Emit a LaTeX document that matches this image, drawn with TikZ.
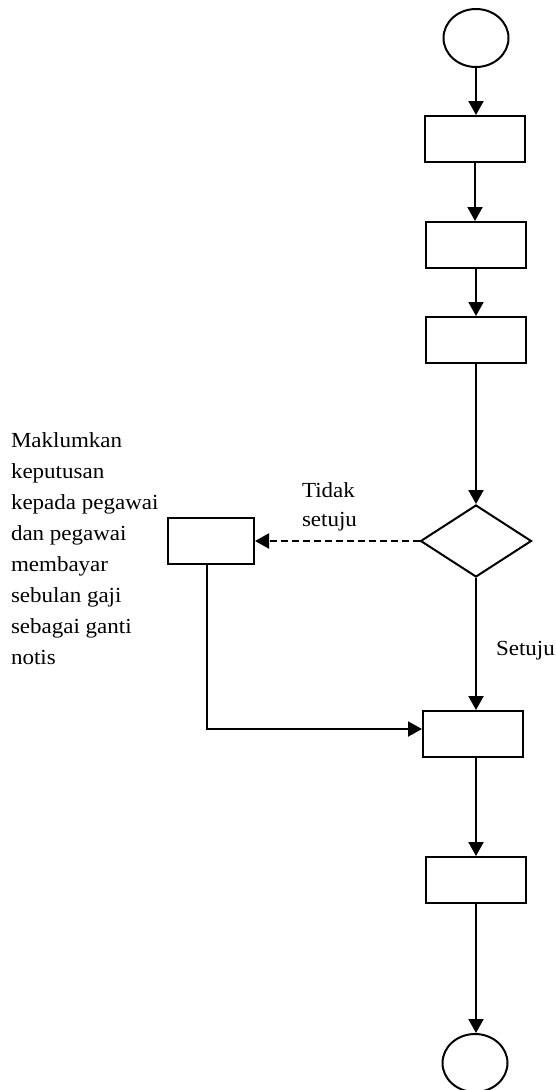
\documentclass[tikz,border=0pt]{standalone}
\usepackage{fontspec}
\setmainfont[FakeStretch=1.07]{Liberation Serif}
\usetikzlibrary{arrows.meta,shapes.geometric}
\begin{document}
\begin{tikzpicture}[x=1pt,y=-1pt,
  line width=2pt,
  term/.style={draw,ellipse,minimum width=65pt,minimum height=58pt,inner sep=0},
  procbox/.style={draw,rectangle,minimum width=100pt,minimum height=46pt,inner sep=0},
  decide/.style={draw,diamond,aspect=1.53,minimum width=111pt,minimum height=72pt,inner sep=0},
  flow/.style={-{Triangle[length=14pt,width=15pt]}},
  dashflow/.style={flow,dash pattern=on 7pt off 4pt},
  lbl/.style={font=\fontsize{21.5}{31}\selectfont,inner sep=0,align=left}]
\useasboundingbox (0,0) rectangle (555,1090);
\node[term] (start) at (476,38) {};
\node[procbox] (b1) at (475,139) {};
\node[procbox] (b2) at (476,245) {};
\node[procbox] (b3) at (476,340) {};
\node[decide] (d) at (476,541) {};
\node[procbox,minimum width=86pt] (bl) at (211,541) {};
\node[procbox] (b4) at (473,734) {};
\node[procbox] (b5) at (476,880) {};
\node[term] (end) at (475,1063) {};
\coordinate (corner) at (207,729);
\draw[flow] (start.south) -- (start.south |- b1.north);
\draw[flow] (b1) -- (b1 |- b2.north);
\draw[flow] (b2) -- (b3);
\draw[flow] (b3) -- (d);
\draw[dashflow] (d) -- (bl);
\draw[flow] (d.south) -- (d.south |- b4.north);
\draw[flow] (bl.south -| corner) -- (corner) -- (corner -| b4.west);
\draw[flow] (b4.south -| b5) -- (b5);
\draw[flow] (b5) -- (b5 |- end.north);
\node[lbl,anchor=base west] (nt) at (301,497) {Tidak};
\node[lbl,anchor=base west] (ns) at (301,526.5) {setuju};
\node[lbl,anchor=base west] (ny) at (495,655) {Setuju};
\node[lbl,anchor=north west] (txt) at (10,431.3) {Maklumkan\\keputusan\\kepada pegawai\\dan pegawai\\membayar\\sebulan gaji\\sebagai ganti\\notis};
\end{tikzpicture}
\end{document}
